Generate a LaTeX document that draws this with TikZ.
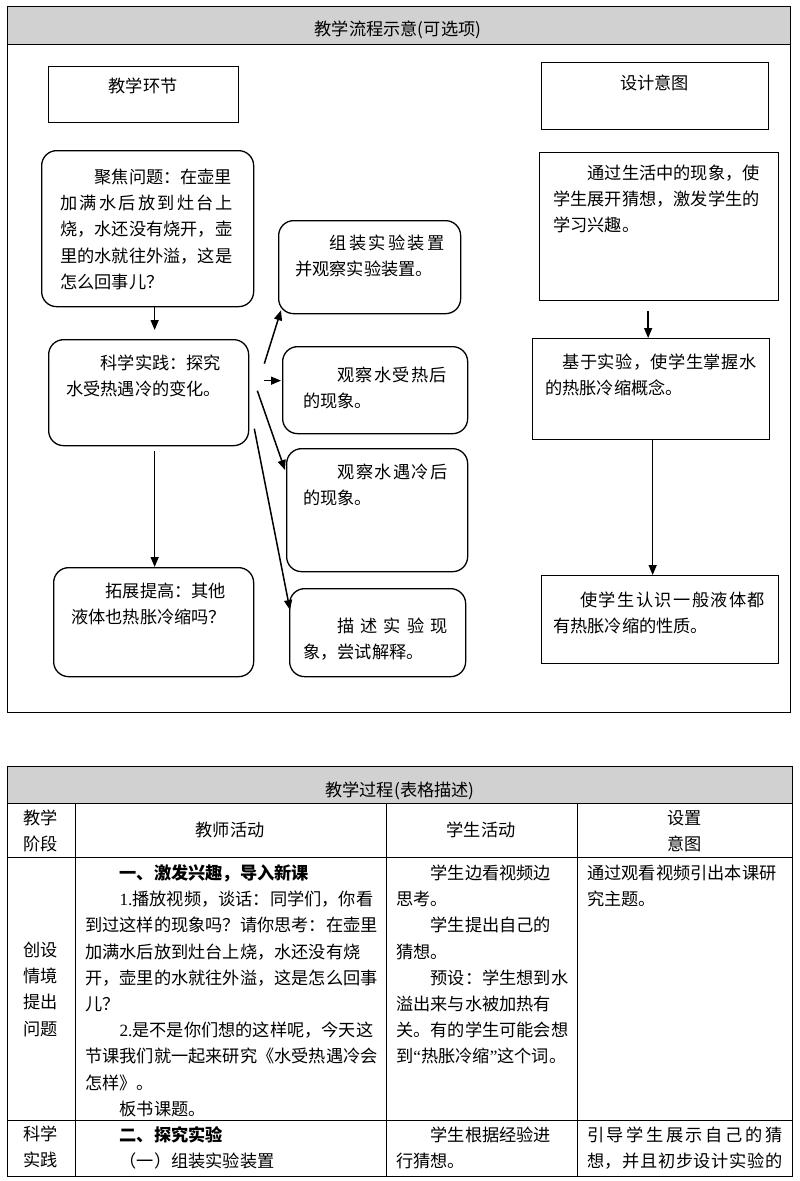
\documentclass[tikz,border=0pt]{standalone}
\usepackage{fontspec}
\setmainfont{Noto Sans CJK SC}
\newfontfamily\latinfont{Liberation Serif}
\usetikzlibrary{arrows.meta}
\definecolor{headgray}{RGB}{209,209,209}
% stretch a line of characters to a given width
\newcommand\spreadline[2]{\makebox[#1][s]{\spreadchars#2\relax}}
\def\spreadchars#1#2{#1\ifx\relax#2\else\hfil\expandafter\spreadchars\expandafter#2\fi}
\tikzset{
        box_sq/.style = {draw=black, line width=1.3pt, anchor=north west,
            inner sep=0pt},
        box_rd/.style = {box_sq, rounded corners=15pt},
        txt/.style = {inner sep=0pt, font=\fontsize{17.2}{26.2}\selectfont},
        txt_l/.style = {txt, anchor=base west, align=left, text width=#1},
        txt_c/.style = {txt, anchor=base, align=center, text width=#1},
        arr_flow/.style = {->, line width=1.5pt},
        frame_line/.style = {line width=1pt}
    }
\begin{document}
\begin{tikzpicture}[x=1pt,y=-1pt,>={Triangle[length=10pt,width=8pt]}]
\useasboundingbox (0,0) rectangle (800,1181);

% teaching flow frame
\fill[headgray] (7,6) rectangle (790,44);
\draw[frame_line] (7,6) rectangle (790,712);
\draw[frame_line] (7,44) -- (790,44);
\node[txt, anchor=base] (flowtitle) at (398,35.5) {教学流程示意(可选项)};

% left column
\node[box_sq, minimum width=190, minimum height=56] (stage) at (48,66) {};
\node[txt, anchor=base] (stage-t) at (143,92.5) {教学环节};
\node[box_rd, minimum width=212, minimum height=156] (focus) at (41,150) {};
\node[txt_l=180] (focus-t) at (60,183.5) {\hspace*{2em}聚焦问题：在壶里\\
    \spreadline{173pt}{加满水后放到灶台上}\\
    烧，水还没有烧开，壶\\
    里的水就往外溢，这是\\
    怎么回事儿？};
\node[box_rd, minimum width=200, minimum height=106] (practice) at (48,339) {};
\node[txt_l=170] (practice-t) at (66,369.5) {\hspace*{2em}科学实践：探究\\
    水受热遇冷的变化。};
\node[box_rd, minimum width=200, minimum height=109] (extend) at (53,567) {};
\node[txt_l=170] (extend-t) at (71,597.5) {\hspace*{2em}拓展提高：其他\\
    液体也热胀冷缩吗？};

% middle column
\node[box_rd, minimum width=182, minimum height=93] (assemble) at (278,220) {};
\node[txt_l=160] (assemble-t) at (295,249.5) {\hspace*{2em}\spreadline{115pt}{组装实验装置}\\
    并观察实验装置。};
\node[box_rd, minimum width=185, minimum height=87] (heat) at (282,346) {};
\node[txt_l=155] (heat-t) at (303,381.5) {\hspace*{2em}\spreadline{109pt}{观察水受热后}\\
    的现象。};
\node[box_rd, minimum width=181, minimum height=123] (cool) at (286,448) {};
\node[txt_l=155] (cool-t) at (303,478.5) {\hspace*{2em}\spreadline{110pt}{观察水遇冷后}\\
    的现象。};
\node[box_rd, minimum width=176, minimum height=88] (describe) at (289,588) {};
\node[txt_l=155] (describe-t) at (303,632.5) {\hspace*{2em}\spreadline{110pt}{描述实验现}\\
    象，尝试解释。};

% right column
\node[box_sq, minimum width=227, minimum height=67] (intent) at (541,62) {};
\node[txt, anchor=base] (intent-t) at (654.5,89.5) {设计意图};
\node[box_sq, minimum width=239, minimum height=148] (aim1) at (539,152) {};
\node[txt_l=215] (aim1-t) at (553,179.5) {\hspace*{2em}通过生活中的现象，使\\
    学生展开猜想，激发学生的\\
    学习兴趣。};
\node[box_sq, minimum width=237, minimum height=101] (aim2) at (532,338) {};
\node[txt_l=215] (aim2-t) at (545,368.5) {\hspace*{1em}\spreadline{194pt}{基于实验，使学生掌握水}\\
    的热胀冷缩概念。};
\node[box_sq, minimum width=237, minimum height=88] (aim3) at (541,575) {};
\node[txt_l=215] (aim3-t) at (553,606.5) {\hspace*{27pt}\spreadline{185pt}{使学生认识一般液体都}\\
    有热胀冷缩的性质。};

% connectors
\draw[arr_flow] ([xshift=7pt]focus.south) -- ([xshift=6pt,yshift=9pt]practice.north);
\draw[arr_flow] ([xshift=6pt,yshift=-5pt]practice.south) -- ([xshift=1pt]extend.north);
\draw[arr_flow] ([xshift=15pt,yshift=29pt]practice.east) -- ([xshift=3pt,yshift=4pt]assemble.south west);
\draw[arr_flow] ([xshift=15pt,yshift=12pt]practice.east) -- ([xshift=-1pt,yshift=9.5pt]heat.west);
\draw[arr_flow] ([xshift=8pt,yshift=2pt]practice.east) -- ([xshift=-1pt,yshift=-22pt]cool.north west);
\draw[arr_flow] ([xshift=5pt,yshift=-36pt]practice.east) -- ([xshift=1pt,yshift=-22pt]describe.north west);
\draw[arr_flow] ([xshift=-11pt,yshift=-10pt]aim1.south) -- ([xshift=-3pt]aim2.north);
\draw[arr_flow] ([xshift=1.5pt]aim2.south) -- ([xshift=-7.5pt]aim3.north);

% teaching process table
\fill[headgray] (7,766) rectangle (792,803);
\draw[frame_line] (7,766) rectangle (792,1176);
\foreach \y in {803,857,1120} \draw[frame_line] (7,\y) -- (792,\y);
\foreach \x in {75,386,577} \draw[frame_line] (\x,803) -- (\x,1176);
\node[txt, anchor=base] (proctitle) at (400,796.5) {教学过程(表格描述)};
\node[txt_c=60] (h-stage) at (41,824.5) {教学\\阶段};
\node[txt, anchor=base] (h-teacher) at (230,836.5) {教师活动};
\node[txt, anchor=base] (h-student) at (481,836.5) {学生活动};
\node[txt_c=80] (h-intent) at (684.5,824.5) {设置\\意图};

\node[txt_c=60] (s1) at (41,956.5) {创设\\情境\\提出\\问题};
\node[txt_l=296] (t1) at (85,879.5) {\hspace*{2em}\textbf{一、激发兴趣，导入新课}\\
    \hspace*{2em}{\latinfont 1.}播放视频，谈话：同学们，你看\\
    到过这样的现象吗？请你思考：在壶里\\
    加满水后放到灶台上烧，水还没有烧\\
    开，壶里的水就往外溢，这是怎么回事\\
    儿？\\
    \hspace*{2em}{\latinfont 2.}是不是你们想的这样呢，今天这\\
    节课我们就一起来研究《水受热遇冷会\\
    怎样》。\\
    \hspace*{2em}板书课题。};
\node[txt_l=178] (p1) at (396,879.5) {\hspace*{2em}学生边看视频边\\
    思考。\\
    \hspace*{2em}学生提出自己的\\
    猜想。\\
    \hspace*{2em}预设：学生想到水\\
    溢出来与水被加热有\\
    关。有的学生可能会想\\
    到{\latinfont “}热胀冷缩{\latinfont ”}这个词。};
\node[txt_l=200] (i1) at (587,879.5) {通过观看视频引出本课研\\
    究主题。};

\node[txt_c=60] (s2) at (41,1140) {科学\\实践};
\node[txt_l=296] (t2) at (85,1141.5) {\hspace*{2em}\textbf{二、探究实验}\\
    \hspace*{2em}（一）组装实验装置};
\node[txt_l=178] (p2) at (396,1141.5) {\hspace*{2em}学生根据经验进\\
    行猜想。};
\node[txt_l=200] (i2) at (587,1141.5) {\spreadline{195pt}{引导学生展示自己的猜}\\
    \spreadline{195pt}{想，并且初步设计实验的}};
\end{tikzpicture}
\end{document}
